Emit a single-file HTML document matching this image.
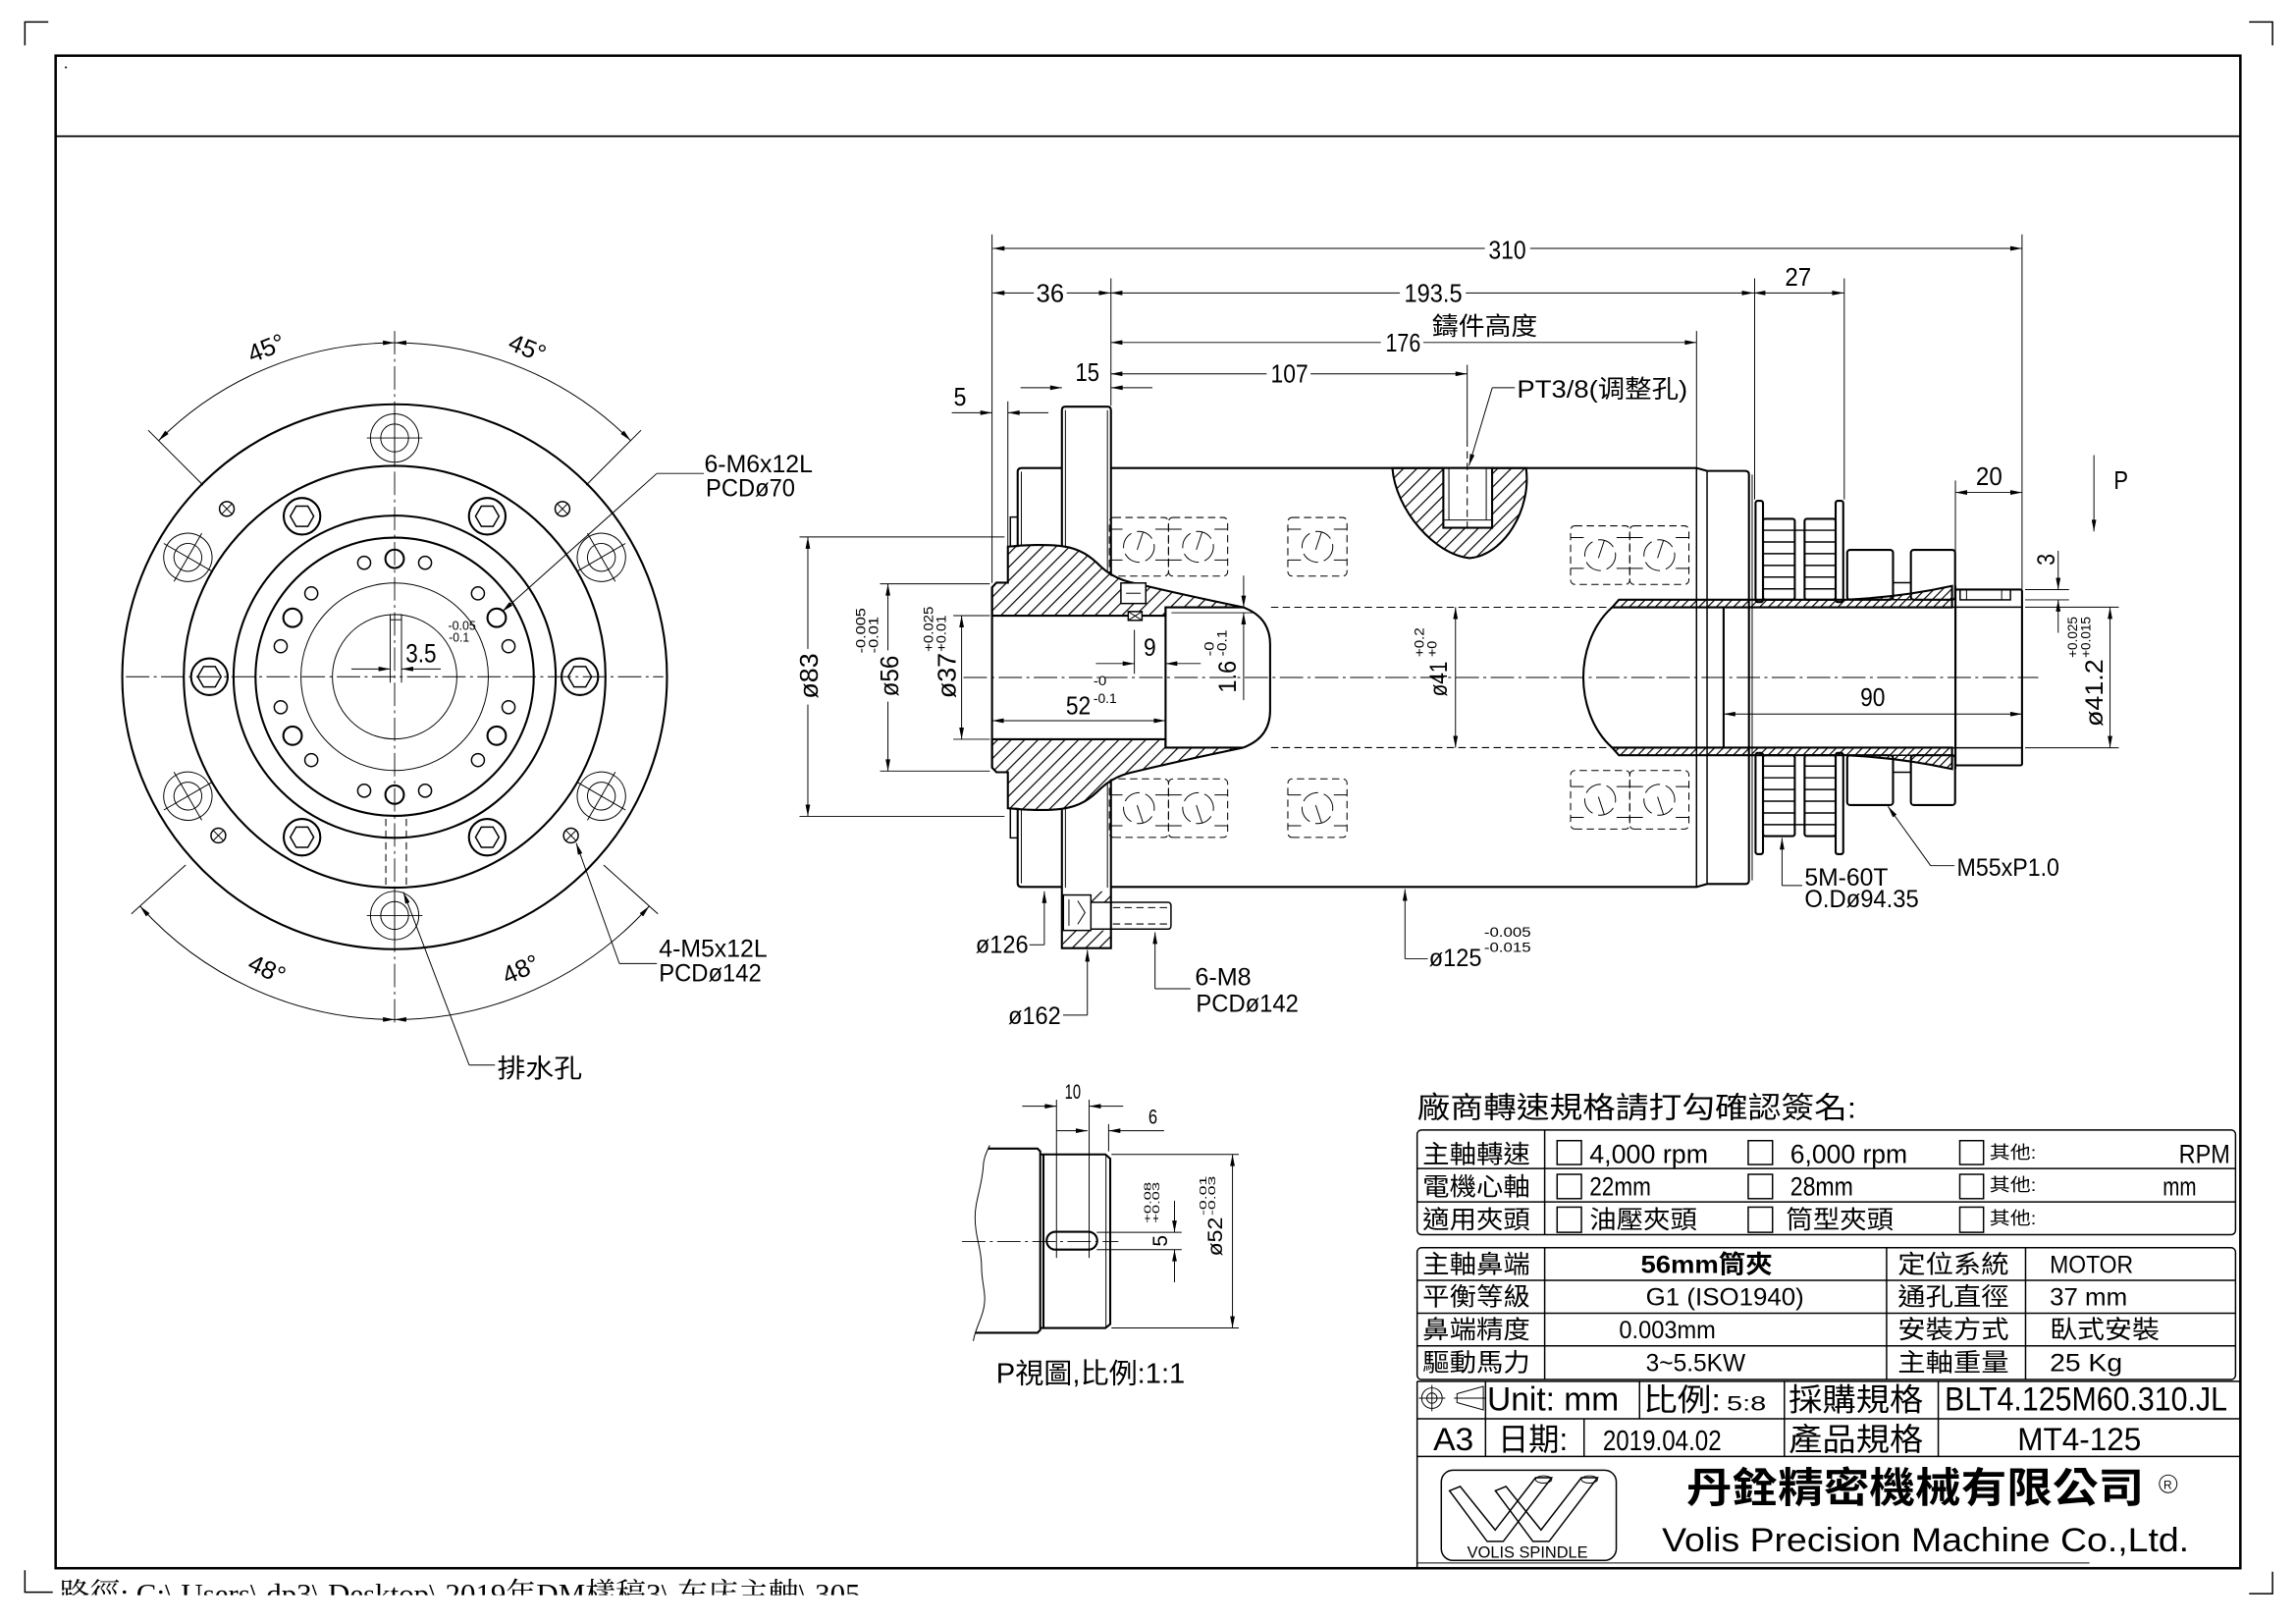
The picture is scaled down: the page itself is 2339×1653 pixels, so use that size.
<!DOCTYPE html>
<html><head><meta charset="utf-8"><style>
html,body{margin:0;padding:0;background:#fff;overflow:hidden}
svg{display:block}
.o{fill:none;stroke:#000;stroke-width:1.4}
.m{fill:none;stroke:#000;stroke-width:1}
.t{fill:none;stroke:#000;stroke-width:.65}
.c{fill:none;stroke:#000;stroke-width:.6;stroke-dasharray:16 3 2 3}
.d{fill:none;stroke:#000;stroke-width:.7;stroke-dasharray:5 3}
.ar{marker-start:url(#a);marker-end:url(#a)}
.ae{marker-end:url(#a)}
text{font-family:"Liberation Sans","Noto Sans CJK TC",sans-serif;fill:#000}
</style></head><body>
<svg xmlns="http://www.w3.org/2000/svg" xmlns:xlink="http://www.w3.org/1999/xlink" width="2339" height="1653" viewBox="0 0 1568 1108" preserveAspectRatio="none">
<defs>
<marker id="a" viewBox="0 0 10 4" refX="10" refY="2" markerWidth="9" markerHeight="3.2" markerUnits="userSpaceOnUse" orient="auto-start-reverse"><path d="M0,0L10,2L0,4z" fill="#000"/></marker>
<pattern id="h" width="6.5" height="6.5" patternUnits="userSpaceOnUse" patternTransform="rotate(45)"><rect width="0.8" height="6.5" fill="#000"/></pattern>
<pattern id="h2" width="4.2" height="4.2" patternUnits="userSpaceOnUse" patternTransform="rotate(45)"><rect width="0.8" height="4.2" fill="#000"/></pattern>
<clipPath id="cp"><rect x="0" y="1070" width="800" height="19"/></clipPath>
<g id="cb"><circle r="16.5" class="t"/><circle r="9.5" class="t"/><path class="t" d="M-19,0H19M0,-19V19"/></g>
<g id="hx"><circle r="12.5" class="o" stroke-width="1.6"/><polygon class="m" stroke-width="1.3" points="8,0 4,6.93 -4,6.93 -8,0 -4,-6.93 4,-6.93"/></g>
<g id="xh"><circle r="5" class="m" stroke-width="1.3"/><path class="t" d="M-3.2,-3.2L3.2,3.2M-3.2,3.2L3.2,-3.2"/></g>
<g id="br"><rect width="40.4" height="40" rx="3" class="d"/><path class="t" d="M0,8H9M31.4,8H40.4M0,29H9M31.4,29H40.4"/><circle cx="20.2" cy="20" r="10.5" class="t" stroke-dasharray="12 4"/><line class="t" x1="19" y1="22" x2="23" y2="10"/></g>
</defs>
<rect width="1568" height="1108" fill="#fff"/>

<!-- FRAME -->
<rect x="38" y="38" width="1492" height="1032.6" fill="none" stroke="#000" stroke-width="1.7"/>
<line x1="38" y1="93" x2="1530" y2="93" stroke="#000" stroke-width="1.2"/>
<path class="m" d="M17,31V15H33M1536,15H1552V31M17,1072V1087H36M1536,1088H1552V1073"/>
<circle cx="45" cy="46" r="0.7"/>
<text x="40.6" y="1095" font-size="20" style="font-family:'Liberation Serif','Noto Serif CJK SC',serif" textLength="547" lengthAdjust="spacingAndGlyphs" clip-path="url(#cp)">路徑: C:\ Users\ dp3\ Desktop\ 2019年DM樣稿3\ 东庆主軸\ 305</text>

<!-- LEFT VIEW -->
<circle cx="269.5" cy="462" r="186" class="o" stroke-width="1.6"/>
<circle cx="269.5" cy="462" r="144" class="o" stroke-width="1.6"/>
<circle cx="269.5" cy="462" r="110" class="o" stroke-width="1.6"/>
<circle cx="269.5" cy="462" r="95" class="o" stroke-width="1.6"/>
<circle cx="269.5" cy="462" r="64" class="t"/>
<circle cx="269.5" cy="462" r="42.5" class="t"/>
<line class="c" x1="269.5" y1="226" x2="269.5" y2="701"/>
<line class="c" x1="86" y1="462" x2="453" y2="462"/>
<use href="#cb" transform="translate(269.5,299)"/>
<use href="#cb" transform="translate(410.7,380.5) rotate(60)"/>
<use href="#cb" transform="translate(410.7,543.5) rotate(120)"/>
<use href="#cb" transform="translate(269.5,625)"/>
<use href="#cb" transform="translate(128.3,543.5) rotate(60)"/>
<use href="#cb" transform="translate(128.3,380.5) rotate(120)"/>
<use href="#hx" transform="translate(396,462)"/>
<use href="#hx" transform="translate(143,462)"/>
<use href="#hx" transform="translate(332.75,352.45)"/>
<use href="#hx" transform="translate(206.25,352.45)"/>
<use href="#hx" transform="translate(332.75,571.55)"/>
<use href="#hx" transform="translate(206.25,571.55)"/>
<use href="#xh" transform="translate(154.9,347.4)"/>
<use href="#xh" transform="translate(384.1,347.4)"/>
<use href="#xh" transform="translate(149.1,570.4)"/>
<use href="#xh" transform="translate(389.9,570.4)"/>
<g class="o" stroke-width="1.5">
<circle cx="269.5" cy="381.5" r="6.3"/><circle cx="339.2" cy="421.75" r="6.3"/><circle cx="339.2" cy="502.25" r="6.3"/>
<circle cx="269.5" cy="542.5" r="6.3"/><circle cx="199.8" cy="502.25" r="6.3"/><circle cx="199.8" cy="421.75" r="6.3"/>
</g>
<g class="m" stroke-width="1.3">
<circle cx="290.3" cy="384.2" r="4.4"/><circle cx="326.4" cy="405.1" r="4.4"/><circle cx="347.3" cy="441.2" r="4.4"/>
<circle cx="347.3" cy="482.8" r="4.4"/><circle cx="326.4" cy="518.9" r="4.4"/><circle cx="290.3" cy="539.8" r="4.4"/>
<circle cx="248.7" cy="539.8" r="4.4"/><circle cx="212.6" cy="518.9" r="4.4"/><circle cx="191.7" cy="482.8" r="4.4"/>
<circle cx="191.7" cy="441.2" r="4.4"/><circle cx="212.6" cy="405.1" r="4.4"/><circle cx="248.7" cy="384.2" r="4.4"/>
</g>
<rect x="266.5" y="419.6" width="7.7" height="3.5" class="t"/>
<path class="t" d="M266.5,420V466M274.2,420V466"/>
<line class="t ae" x1="240" y1="456.7" x2="266.5" y2="456.7"/>
<line class="t ae" x1="301" y1="456.7" x2="274.2" y2="456.7"/>
<text x="277" y="452" font-size="18" textLength="21" lengthAdjust="spacingAndGlyphs">3.5</text>
<text x="306" y="430" font-size="8.5" textLength="19" lengthAdjust="spacingAndGlyphs">-0.05</text>
<text x="306.5" y="438" font-size="8.5" textLength="14" lengthAdjust="spacingAndGlyphs">-0.1</text>
<path class="d" d="M263.5,559V607M277.5,559V607"/>
<!-- angle dims -->
<path class="t ar" d="M269.5,234 A228,228 0 0 0 108.3,300.8"/>
<path class="t ar" d="M269.5,234 A228,228 0 0 1 430.7,300.8"/>
<path class="t ar" d="M269.5,696 A234,234 0 0 1 95.6,618.6"/>
<path class="t ar" d="M269.5,696 A234,234 0 0 0 443.4,618.6"/>
<path class="t" d="M138.7,331.2L101.2,293.7M400.3,331.2L437.8,293.7M126.8,590.5L89.7,623.9M412.2,590.5L449.3,623.9"/>
<text transform="translate(184,243) rotate(-22)" font-size="17" text-anchor="middle">45°</text>
<text transform="translate(358,243) rotate(22)" font-size="17" text-anchor="middle">45°</text>
<text transform="translate(180,667) rotate(24)" font-size="17" text-anchor="middle">48°</text>
<text transform="translate(358,667) rotate(-24)" font-size="17" text-anchor="middle">48°</text>
<!-- leaders -->
<line class="t ae" x1="448.6" y1="323.2" x2="343" y2="417.5"/>
<line class="t" x1="448.6" y1="323.2" x2="480.7" y2="323.2"/>
<text x="481" y="322.5" font-size="17" textLength="74" lengthAdjust="spacingAndGlyphs">6-M6x12L</text>
<text x="482" y="339" font-size="17" textLength="61" lengthAdjust="spacingAndGlyphs">PCDø70</text>
<line class="t ae" x1="423" y1="657.8" x2="393.5" y2="575.5"/>
<line class="t" x1="423" y1="657.8" x2="448.6" y2="657.8"/>
<text x="450" y="653.3" font-size="17" textLength="74" lengthAdjust="spacingAndGlyphs">4-M5x12L</text>
<text x="450" y="670" font-size="17" textLength="70" lengthAdjust="spacingAndGlyphs">PCDø142</text>
<line class="t ae" x1="320.4" y1="727.1" x2="275.5" y2="609"/>
<line class="t" x1="320.4" y1="727.1" x2="338" y2="727.1"/>
<text x="339.6" y="735.5" font-size="18" textLength="58" lengthAdjust="spacingAndGlyphs">排水孔</text>

<!-- MAIN VIEW: outlines -->
<line class="c" x1="658" y1="462.5" x2="1392" y2="462.5"/>
<path class="o" d="M695,373V322Q695,319.5 698,319.5H725.2"/>
<path class="o" d="M725.2,373V280Q725.2,277.6 727.6,277.6H756.3Q758.7,277.6 758.7,280V393"/>
<path class="o" d="M758.7,319.5H1158.6L1165.8,321.5H1191.8Q1194.4,321.5 1194.4,324V601Q1194.4,603.5 1191.8,603.5H1165.8L1158.6,605.5H758.7"/>
<path class="m" d="M1158.6,319.5V605.5M1165.8,321.5V603.5"/>
<line class="t" x1="1196.6" y1="324" x2="1196.6" y2="601"/>
<path class="o" d="M695,552V603Q695,605.5 698,605.5H725.2"/>
<path class="o" d="M725.2,552V647.3H758.7V532"/>
<path class="t" d="M697.5,322V373M697.5,552V603M727.6,280V373M756.3,280V391M727.6,552V606M756.3,534V606"/>
<rect x="690" y="353" width="5" height="20" class="m"/>
<rect x="690" y="552" width="5" height="20" class="m"/>
<!-- hub -->
<path class="o" style="fill:url(#h)" d="M677.5,401L680.5,397.8H688.3V373.2C700,372 715,371.5 725,372.8C738,374.5 745,380 752,387C758,392.5 764,395.6 772,397.5C795,403 822,409 849,414.6H796V420.3H677.5Z"/>
<path class="o" style="fill:url(#h)" d="M677.5,524L680.5,527.2H688.3V551.8C700,553 715,553.5 725,552.2C738,550.5 745,545 752,538C758,532.5 764,529.4 772,527.5C795,522 822,516 849,510.4H796V504.7H677.5Z"/>
<line class="o" x1="677.5" y1="401" x2="677.5" y2="524"/>
<path class="o" d="M849,414.6C861,419 867.4,427 867.4,440V485C867.4,498 861,506 849,510.4"/>
<line class="o" x1="796" y1="414.6" x2="796" y2="510.4"/>
<rect x="765.5" y="398" width="17" height="14" class="m" style="fill:#fff"/>
<line class="t" x1="769" y1="405" x2="779" y2="405"/>
<rect x="770.5" y="417.5" width="9.4" height="6" class="m" style="fill:#fff"/>
<path class="t" d="M770.5,417.5L779.9,423.5M770.5,423.5L779.9,417.5"/>
<line class="t" x1="800" y1="418.3" x2="856" y2="418.3"/>
<path class="d" d="M868,414.6H1101M868,510.4H1101"/>
<!-- PT lens -->
<path class="o" style="fill:url(#h)" d="M950.9,319.5C953,348 980,379 1003.7,381C1027,379 1046,348 1042.2,319.5Z"/>
<rect x="985.7" y="319.5" width="33.3" height="40.8" class="o" style="fill:#fff"/>
<path class="t" d="M989.5,319.5V355M1015,319.5V355M985.7,355H1019"/>
<line class="d" x1="1002" y1="300" x2="1002" y2="360"/>
<!-- bearings -->
<use href="#br" x="757.6" y="353.3"/>
<use href="#br" x="798" y="353.3"/>
<use href="#br" x="879.5" y="353.3"/>
<use href="#br" transform="translate(757.6,571.7) scale(1,-1)"/>
<use href="#br" transform="translate(798,571.7) scale(1,-1)"/>
<use href="#br" transform="translate(879.5,571.7) scale(1,-1)"/>
<use href="#br" x="1072.6" y="359"/>
<use href="#br" x="1113" y="359"/>
<use href="#br" transform="translate(1072.6,566) scale(1,-1)"/>
<use href="#br" transform="translate(1113,566) scale(1,-1)"/>
<!-- flange bolt -->
<rect x="745" y="608.5" width="13.7" height="7.5" style="fill:url(#h)"/>
<rect x="726" y="635.2" width="32.7" height="12" style="fill:url(#h)"/>
<rect x="726.2" y="611" width="18.8" height="24.2" class="m" style="fill:#fff"/>
<path class="t" d="M730,614V632M736,615L741,623L736,631"/>
<path class="m" d="M745,616H797.5Q799.7,616 799.7,618.5V631.8Q799.7,634.3 797.5,634.3H745"/>
<path class="d" d="M760,619.6H797M760,630.8H797"/>
<!-- pulley -->
<rect x="1198.9" y="341.9" width="5.1" height="69.1" rx="1.5" class="o"/>
<rect x="1253.6" y="341.9" width="5.2" height="69.1" rx="1.5" class="o"/>
<rect x="1198.9" y="514" width="5.1" height="69.1" rx="1.5" class="o"/>
<rect x="1253.6" y="514" width="5.2" height="69.1" rx="1.5" class="o"/>
<rect x="1204" y="354.2" width="21.7" height="55.2" rx="1.5" class="o"/>
<rect x="1232.4" y="354.2" width="21.2" height="55.2" rx="1.5" class="o"/>
<rect x="1204" y="515.6" width="21.7" height="55.2" rx="1.5" class="o"/>
<rect x="1232.4" y="515.6" width="21.2" height="55.2" rx="1.5" class="o"/>
<path class="m" d="M1204,362H1253.6M1204,370H1225.7M1232.4,370H1253.6M1204,378H1225.7M1232.4,378H1253.6M1204,386H1225.7M1232.4,386H1253.6M1204,394H1225.7M1232.4,394H1253.6M1204,402H1225.7M1232.4,402H1253.6"/>
<path class="m" d="M1204,563H1253.6M1204,555H1225.7M1232.4,555H1253.6M1204,547H1225.7M1232.4,547H1253.6M1204,539H1225.7M1232.4,539H1253.6M1204,531H1225.7M1232.4,531H1253.6M1204,523H1225.7M1232.4,523H1253.6"/>
<rect x="1261.5" y="375.4" width="31.3" height="34" rx="2" class="o"/>
<rect x="1305" y="375.4" width="30.2" height="34" rx="2" class="o"/>
<rect x="1261.5" y="515.6" width="31.3" height="34" rx="2" class="o"/>
<rect x="1305" y="515.6" width="30.2" height="34" rx="2" class="o"/>
<rect x="1292.8" y="397.8" width="12.2" height="11.6" class="m"/>
<rect x="1292.8" y="515.6" width="12.2" height="11.6" class="m"/>
<!-- shaft tube -->
<path class="o" style="fill:url(#h2)" d="M1105.6,409.4H1261C1290,408 1315,404 1333.1,400V414.6H1101Z"/>
<path class="o" style="fill:url(#h2)" d="M1105.6,515.6H1261C1290,517 1315,521 1333.1,525V510.4H1101Z"/>
<path class="o" d="M1101,414.6C1086,428 1081.3,448 1081.3,462.5C1081.3,477 1086,497 1101,510.4"/>
<line class="o" x1="1177.1" y1="414.6" x2="1177.1" y2="510.4"/>
<line class="o" x1="1335.4" y1="400" x2="1335.4" y2="525"/>
<rect x="1335.4" y="402.5" width="45.5" height="120" rx="1" class="o"/>
<rect x="1338.6" y="402.5" width="34.4" height="7" class="m"/>
<path class="t" d="M1343,402.5V409.5M1367,402.5V409.5"/>
<path class="m" d="M1177.1,414.5H1380.9M1177.1,510.5H1380.9"/>

<!-- MAIN VIEW: extension lines -->
<path class="t" d="M677.5,160V398M688.3,274V373M758.7,190V277M1002,249V300M1158.6,226V319M1198.3,190V341M1259.5,190V341M1380.9,160V402M1335.4,328V400"/>
<path class="t" d="M546,366.6H686M546,557.3H686M601,398.6H676M601,526.4H676M651,420.3H676M651,504.7H676"/>
<path class="t" d="M1383,402.5H1413M1383,409.5H1413M1383,414.5H1447M1383,510.5H1447M774.7,430V460"/>

<!-- MAIN VIEW: dimensions -->
<line class="t" x1="678" y1="169.6" x2="1014" y2="169.6" style="marker-start:url(#a)"/>
<line class="t ae" x1="1045" y1="169.6" x2="1380.9" y2="169.6"/>
<text x="1016.5" y="176.7" font-size="17.5" textLength="25.7" lengthAdjust="spacingAndGlyphs">310</text>
<line class="t" x1="678" y1="200" x2="706" y2="200" style="marker-start:url(#a)"/>
<line class="t ae" x1="728.5" y1="200" x2="758.5" y2="200"/>
<text x="707.7" y="206" font-size="17.5" textLength="19" lengthAdjust="spacingAndGlyphs">36</text>
<line class="t" x1="758.5" y1="200" x2="956" y2="200" style="marker-start:url(#a)"/>
<line class="t ae" x1="1001" y1="200" x2="1197.6" y2="200"/>
<text x="959" y="206" font-size="17.5" textLength="39.6" lengthAdjust="spacingAndGlyphs">193.5</text>
<line class="t ar" x1="1197.6" y1="200" x2="1259.2" y2="200"/>
<text x="1219" y="195" font-size="17.5" textLength="18" lengthAdjust="spacingAndGlyphs">27</text>
<text x="978" y="228.5" font-size="17" textLength="72" lengthAdjust="spacingAndGlyphs">鑄件高度</text>
<line class="t" x1="758.5" y1="233.8" x2="943" y2="233.8" style="marker-start:url(#a)"/>
<line class="t ae" x1="972" y1="233.8" x2="1158.6" y2="233.8"/>
<text x="946.2" y="240" font-size="17.5" textLength="24" lengthAdjust="spacingAndGlyphs">176</text>
<line class="t" x1="758.5" y1="255.2" x2="865" y2="255.2" style="marker-start:url(#a)"/>
<line class="t ae" x1="895" y1="255.2" x2="1002" y2="255.2"/>
<text x="867.8" y="261" font-size="17.5" textLength="25.6" lengthAdjust="spacingAndGlyphs">107</text>
<line class="t ae" x1="697" y1="264.7" x2="725.2" y2="264.7"/>
<line class="t ae" x1="787" y1="264.7" x2="758.7" y2="264.7"/>
<text x="734.4" y="260" font-size="17.5" textLength="16.4" lengthAdjust="spacingAndGlyphs">15</text>
<line class="t ae" x1="650" y1="281.8" x2="677.5" y2="281.8"/>
<line class="t ae" x1="716" y1="281.8" x2="688.3" y2="281.8"/>
<text x="651.3" y="277" font-size="17.5" textLength="8.7" lengthAdjust="spacingAndGlyphs">5</text>
<line class="t ae" x1="1019.1" y1="264.7" x2="1003.2" y2="318"/>
<line class="t" x1="1019.1" y1="264.7" x2="1034.5" y2="264.7"/>
<text x="1036" y="271.5" font-size="17" textLength="116.5" lengthAdjust="spacingAndGlyphs">PT3/8(调整孔)</text>
<line class="t ar" x1="1335.4" y1="336.2" x2="1380.9" y2="336.2"/>
<text x="1349.4" y="331" font-size="17.5" textLength="18" lengthAdjust="spacingAndGlyphs">20</text>
<line class="t ae" x1="1430" y1="310.7" x2="1430" y2="362.8"/>
<text x="1443.6" y="333.8" font-size="17.5" textLength="9.8" lengthAdjust="spacingAndGlyphs">P</text>
<line class="t ae" x1="1405.6" y1="376" x2="1405.6" y2="402.5"/>
<line class="t ae" x1="1405.6" y1="432" x2="1405.6" y2="409.5"/>
<text transform="translate(1403,386) rotate(-90)" font-size="17" textLength="8" lengthAdjust="spacingAndGlyphs">3</text>
<line class="t ar" x1="1441" y1="414.5" x2="1441" y2="510.5"/>
<text transform="translate(1436,496) rotate(-90)" font-size="17" textLength="46" lengthAdjust="spacingAndGlyphs">ø41.2</text>
<text transform="translate(1418.5,449) rotate(-90)" font-size="9" textLength="28" lengthAdjust="spacingAndGlyphs">+0.025</text>
<text transform="translate(1427.5,449) rotate(-90)" font-size="9" textLength="28" lengthAdjust="spacingAndGlyphs">+0.015</text>
<line class="t ar" x1="1177.1" y1="487.5" x2="1380.9" y2="487.5"/>
<text x="1270.4" y="482" font-size="17.5" textLength="17" lengthAdjust="spacingAndGlyphs">90</text>
<line class="t ar" x1="994" y1="414.6" x2="994" y2="510.4"/>
<text transform="translate(988,475.5) rotate(-90)" font-size="17" textLength="24" lengthAdjust="spacingAndGlyphs">ø41</text>
<text transform="translate(972.5,448.5) rotate(-90)" font-size="9" textLength="20" lengthAdjust="spacingAndGlyphs">+0.2</text>
<text transform="translate(981,448.5) rotate(-90)" font-size="9" textLength="11" lengthAdjust="spacingAndGlyphs">+0</text>
<line class="t ae" x1="849.3" y1="393" x2="849.3" y2="414.6"/>
<line class="t ae" x1="849.3" y1="478" x2="849.3" y2="418.3"/>
<text transform="translate(844,473) rotate(-90)" font-size="17" textLength="22" lengthAdjust="spacingAndGlyphs">1.6</text>
<text transform="translate(829,448) rotate(-90)" font-size="9" textLength="10" lengthAdjust="spacingAndGlyphs">-0</text>
<text transform="translate(837.5,448) rotate(-90)" font-size="9" textLength="18" lengthAdjust="spacingAndGlyphs">-0.1</text>
<line class="t ae" x1="748.4" y1="453" x2="774.7" y2="453"/>
<line class="t ae" x1="820" y1="453" x2="796" y2="453"/>
<text x="781" y="447.7" font-size="17" textLength="8.5" lengthAdjust="spacingAndGlyphs">9</text>
<line class="t ar" x1="677.5" y1="492" x2="796" y2="492"/>
<text x="727.9" y="487.5" font-size="17.5" textLength="17" lengthAdjust="spacingAndGlyphs">52</text>
<text x="746.7" y="468" font-size="9" textLength="9" lengthAdjust="spacingAndGlyphs">-0</text>
<text x="746.7" y="480" font-size="9" textLength="16" lengthAdjust="spacingAndGlyphs">-0.1</text>
<line class="t" x1="551.7" y1="366.6" x2="551.7" y2="443" style="marker-start:url(#a)"/>
<line class="t ae" x1="551.7" y1="481" x2="551.7" y2="557.3"/>
<text transform="translate(558.5,477) rotate(-90)" font-size="17.5" textLength="31" lengthAdjust="spacingAndGlyphs">ø83</text>
<line class="t" x1="606.4" y1="398.6" x2="606.4" y2="444" style="marker-start:url(#a)"/>
<line class="t ae" x1="606.4" y1="479" x2="606.4" y2="526.4"/>
<text transform="translate(613.3,475.5) rotate(-90)" font-size="17.5" textLength="28" lengthAdjust="spacingAndGlyphs">ø56</text>
<text transform="translate(591,446) rotate(-90)" font-size="9" textLength="31" lengthAdjust="spacingAndGlyphs">-0.005</text>
<text transform="translate(599.6,446) rotate(-90)" font-size="9" textLength="25" lengthAdjust="spacingAndGlyphs">-0.01</text>
<line class="t ar" x1="656.7" y1="420.3" x2="656.7" y2="504.7"/>
<text transform="translate(652.6,476.7) rotate(-90)" font-size="17.5" textLength="31" lengthAdjust="spacingAndGlyphs">ø37</text>
<text transform="translate(637.2,445) rotate(-90)" font-size="9" textLength="31" lengthAdjust="spacingAndGlyphs">+0.025</text>
<text transform="translate(645.8,445) rotate(-90)" font-size="9" textLength="25" lengthAdjust="spacingAndGlyphs">+0.01</text>

<!-- MAIN VIEW: leaders -->
<line class="t ae" x1="713.2" y1="645" x2="713.2" y2="608.5"/>
<line class="t" x1="713.2" y1="645" x2="703" y2="645"/>
<text x="666.3" y="650.5" font-size="17" textLength="36" lengthAdjust="spacingAndGlyphs">ø126</text>
<line class="t ae" x1="742.6" y1="693" x2="742.6" y2="648.5"/>
<line class="t" x1="742.6" y1="693" x2="726" y2="693"/>
<text x="688.5" y="699" font-size="17" textLength="36" lengthAdjust="spacingAndGlyphs">ø162</text>
<line class="t ae" x1="788.8" y1="675" x2="788.8" y2="636.4"/>
<line class="t" x1="788.8" y1="675" x2="813" y2="675"/>
<text x="816.1" y="672.5" font-size="17" textLength="38.4" lengthAdjust="spacingAndGlyphs">6-M8</text>
<text x="816.8" y="690.8" font-size="17" textLength="70" lengthAdjust="spacingAndGlyphs">PCDø142</text>
<line class="t ae" x1="959.5" y1="654.5" x2="959.5" y2="607"/>
<line class="t" x1="959.5" y1="654.5" x2="975" y2="654.5"/>
<text x="975.9" y="659.5" font-size="17" textLength="36" lengthAdjust="spacingAndGlyphs">ø125</text>
<text x="1013.5" y="639.5" font-size="9.5" textLength="32" lengthAdjust="spacingAndGlyphs">-0.005</text>
<text x="1013.5" y="650" font-size="9.5" textLength="32" lengthAdjust="spacingAndGlyphs">-0.015</text>
<line class="t ae" x1="1217" y1="604.5" x2="1217" y2="572"/>
<line class="t" x1="1217" y1="604.5" x2="1230.8" y2="604.5"/>
<text x="1232.4" y="604.5" font-size="17" textLength="57" lengthAdjust="spacingAndGlyphs">5M-60T</text>
<text x="1232.4" y="619.5" font-size="17" textLength="78" lengthAdjust="spacingAndGlyphs">O.Dø94.35</text>
<line class="t ae" x1="1318.5" y1="591" x2="1289.3" y2="550.5"/>
<line class="t" x1="1318.5" y1="591" x2="1334.8" y2="591"/>
<text x="1336.4" y="597.8" font-size="17" textLength="70" lengthAdjust="spacingAndGlyphs">M55xP1.0</text>

<!-- P VIEW -->
<line class="t ae" x1="698.1" y1="755.2" x2="721.5" y2="755.2"/>
<line class="t ae" x1="767.1" y1="755.2" x2="743.8" y2="755.2"/>
<text x="727.1" y="750" font-size="14" textLength="11" lengthAdjust="spacingAndGlyphs">10</text>
<line class="t ae" x1="721.5" y1="771.9" x2="742.7" y2="771.9"/>
<line class="t ae" x1="795" y1="771.9" x2="757.1" y2="771.9"/>
<text x="784.3" y="767" font-size="14" textLength="6.2" lengthAdjust="spacingAndGlyphs">6</text>
<path class="t" d="M721.5,750.7V858.7M743.8,750.7V858.7M757.1,767.4V786"/>
<path class="t" d="M675.9,781.9C673,788 671.4,792 671.4,797.5C670,812 665.9,820 665.9,830.9C665.9,845 670.3,852 670.3,864.3C670.3,874 672.5,880 672.5,886.5C672.5,898 666,906 664.7,915.5"/>
<path class="o" d="M674.8,784.1H708.5L710.4,786V908L708.5,909.9H665.9"/>
<line class="o" x1="712.6" y1="788.1" x2="712.6" y2="906.6"/>
<path class="o" d="M710.4,788.1H754.9L758.2,791V904L754.9,906.6H710.4"/>
<line class="t" x1="755.3" y1="788.1" x2="755.3" y2="906.6"/>
<rect x="714.8" y="840.9" width="34.5" height="12.2" rx="6" class="o"/>
<line class="c" x1="657" y1="847.6" x2="763.8" y2="847.6"/>
<path class="t" d="M749,841.3H807M749,853.1H807M759,788.1H846M759,906.6H846"/>
<line class="t ae" x1="802.1" y1="819.7" x2="802.1" y2="841.3"/>
<line class="t ae" x1="802.1" y1="875.4" x2="802.1" y2="853.1"/>
<text transform="translate(797.2,851) rotate(-90)" font-size="14" textLength="7.8" lengthAdjust="spacingAndGlyphs">5</text>
<text transform="translate(786,835) rotate(-90)" font-size="7" textLength="28" lengthAdjust="spacingAndGlyphs">+0.08</text>
<text transform="translate(791.6,835) rotate(-90)" font-size="7" textLength="28" lengthAdjust="spacingAndGlyphs">+0.03</text>
<line class="t ar" x1="841.7" y1="788.1" x2="841.7" y2="906.6"/>
<text transform="translate(834.5,857.6) rotate(-90)" font-size="14" textLength="26.7" lengthAdjust="spacingAndGlyphs">ø52</text>
<text transform="translate(824,829.8) rotate(-90)" font-size="7" textLength="27" lengthAdjust="spacingAndGlyphs">-0.01</text>
<text transform="translate(830,829.8) rotate(-90)" font-size="7" textLength="27" lengthAdjust="spacingAndGlyphs">-0.03</text>
<text x="680.3" y="944" font-size="19" textLength="129" lengthAdjust="spacingAndGlyphs">P視圖,比例:1:1</text>

<!-- TABLE 1 -->
<text x="967.8" y="763" font-size="20" textLength="300" lengthAdjust="spacingAndGlyphs">廠商轉速規格請打勾確認簽名:</text>
<rect x="967.8" y="771.4" width="558.9" height="71.5" rx="3" class="m" stroke-width="1.2"/>
<path class="m" d="M967.8,797.7H1526.7M967.8,820.5H1526.7M1054.9,771.4V842.9"/>
<g font-size="17">
<text x="971.5" y="794" textLength="73.5" lengthAdjust="spacingAndGlyphs">主軸轉速</text>
<text x="971.5" y="816" textLength="73.5" lengthAdjust="spacingAndGlyphs">電機心軸</text>
<text x="971.5" y="838.5" textLength="73.5" lengthAdjust="spacingAndGlyphs">適用夾頭</text>
</g>
<g class="m">
<rect x="1063.4" y="778.7" width="16.6" height="16.3"/><rect x="1193.9" y="778.7" width="16.6" height="16.3"/><rect x="1338.4" y="778.7" width="16.2" height="16.3"/>
<rect x="1063.4" y="801.7" width="16.6" height="16.6"/><rect x="1193.9" y="801.7" width="16.6" height="16.6"/><rect x="1338.4" y="801.7" width="16.2" height="16.6"/>
<rect x="1063.4" y="824.1" width="16.6" height="17.2"/><rect x="1193.9" y="824.1" width="16.6" height="17.2"/><rect x="1338.4" y="824.1" width="16.2" height="17.2"/>
</g>
<g font-size="18">
<text x="1085.5" y="794" textLength="81" lengthAdjust="spacingAndGlyphs">4,000 rpm</text>
<text x="1222.6" y="794" textLength="80" lengthAdjust="spacingAndGlyphs">6,000 rpm</text>
<text x="1488" y="794" textLength="35" lengthAdjust="spacingAndGlyphs">RPM</text>
<text x="1085.5" y="816" textLength="42" lengthAdjust="spacingAndGlyphs">22mm</text>
<text x="1222.6" y="816" textLength="43" lengthAdjust="spacingAndGlyphs">28mm</text>
<text x="1477" y="816" textLength="23" lengthAdjust="spacingAndGlyphs">mm</text>
</g>
<g font-size="17">
<text x="1085.5" y="838.5" textLength="73.5" lengthAdjust="spacingAndGlyphs">油壓夾頭</text>
<text x="1219.7" y="838.5" textLength="73.5" lengthAdjust="spacingAndGlyphs">筒型夾頭</text>
</g>
<g font-size="12">
<text x="1358.7" y="791" textLength="32" lengthAdjust="spacingAndGlyphs">其他:</text>
<text x="1358.7" y="813" textLength="32" lengthAdjust="spacingAndGlyphs">其他:</text>
<text x="1358.7" y="836" textLength="32" lengthAdjust="spacingAndGlyphs">其他:</text>
</g>

<!-- TABLE 2 -->
<rect x="967.8" y="851.8" width="558.9" height="90" rx="3" class="m" stroke-width="1.2"/>
<path class="m" d="M967.8,874.1H1526.7M967.8,896.5H1526.7M967.8,918.8H1526.7M1054.9,851.8V941.8M1288.4,851.8V941.8M1383.3,851.8V941.8"/>
<g font-size="17">
<text x="971.5" y="869" textLength="73.5" lengthAdjust="spacingAndGlyphs">主軸鼻端</text>
<text x="971.5" y="891" textLength="73.5" lengthAdjust="spacingAndGlyphs">平衡等級</text>
<text x="971.5" y="913.5" textLength="73.5" lengthAdjust="spacingAndGlyphs">鼻端精度</text>
<text x="971.5" y="936" textLength="73.5" lengthAdjust="spacingAndGlyphs">驅動馬力</text>
<text x="1296" y="869" textLength="76" lengthAdjust="spacingAndGlyphs">定位系統</text>
<text x="1296" y="891" textLength="76" lengthAdjust="spacingAndGlyphs">通孔直徑</text>
<text x="1296" y="913.5" textLength="76" lengthAdjust="spacingAndGlyphs">安裝方式</text>
<text x="1296" y="936" textLength="76" lengthAdjust="spacingAndGlyphs">主軸重量</text>
<text x="1120.5" y="869" textLength="90" lengthAdjust="spacingAndGlyphs" font-weight="bold">56mm筒夾</text>
<text x="1124" y="891" textLength="108" lengthAdjust="spacingAndGlyphs">G1  (ISO1940)</text>
<text x="1105.7" y="913.5" textLength="66" lengthAdjust="spacingAndGlyphs">0.003mm</text>
<text x="1124" y="936" textLength="68" lengthAdjust="spacingAndGlyphs">3~5.5KW</text>
<text x="1399.8" y="869" textLength="57" lengthAdjust="spacingAndGlyphs">MOTOR</text>
<text x="1399.8" y="891" textLength="53" lengthAdjust="spacingAndGlyphs">37 mm</text>
<text x="1399.8" y="913.5" textLength="75" lengthAdjust="spacingAndGlyphs">臥式安裝</text>
<text x="1399.8" y="936" textLength="49.6" lengthAdjust="spacingAndGlyphs">25 Kg</text>
</g>

<!-- TITLE BLOCK -->
<path class="m" stroke-width="1.3" d="M967.8,943V1070.6M967.8,943H1530M967.8,968.6H1530M967.8,994.3H1530M1014.5,943V994.3M1119.7,943V968.6M1081.8,968.6V994.3M1218.6,943V994.3M1323.7,943V994.3"/>
<line class="t" x1="967.8" y1="1067" x2="1427" y2="1067"/>
<circle cx="977.9" cy="954.5" r="7" class="t"/><circle cx="977.9" cy="954.5" r="3.5" class="t"/>
<path class="t" d="M969,954.5H987M977.9,945.5V963.5M995,951.5L1013,946.5V962.5L995,957.5ZM993,954.5H1015"/>
<text x="1015.6" y="963" font-size="23" textLength="90" lengthAdjust="spacingAndGlyphs">Unit:  mm</text>
<text x="1122.2" y="963" font-size="21" textLength="53" lengthAdjust="spacingAndGlyphs">比例:</text>
<text x="1179.2" y="963" font-size="14" textLength="27" lengthAdjust="spacingAndGlyphs">5:8</text>
<text x="1221.5" y="963" font-size="21.5" textLength="92" lengthAdjust="spacingAndGlyphs">採購規格</text>
<text x="1328.1" y="963" font-size="23" textLength="193" lengthAdjust="spacingAndGlyphs">BLT4.125M60.310.JL</text>
<text x="978.8" y="990" font-size="22" textLength="27.6" lengthAdjust="spacingAndGlyphs">A3</text>
<text x="1023" y="990" font-size="21.5" textLength="47.7" lengthAdjust="spacingAndGlyphs">日期:</text>
<text x="1094.6" y="990" font-size="19" textLength="81" lengthAdjust="spacingAndGlyphs">2019.04.02</text>
<text x="1221.5" y="990" font-size="21.5" textLength="92" lengthAdjust="spacingAndGlyphs">產品規格</text>
<text x="1377.8" y="990" font-size="22" textLength="84.5" lengthAdjust="spacingAndGlyphs">MT4-125</text>
<!-- logo -->
<rect x="984.3" y="1003.7" width="119.5" height="61.6" rx="8" class="m"/>
<polygon class="m" points="989.9,1017.7 997.2,1014.8 1021.1,1044.5 1048.7,1008.8 1059.7,1008.8 1026.6,1052.3 1015.6,1052.3"/>
<polygon class="m" points="1021.2,1017.7 1028.5,1014.8 1052.4,1044.5 1080,1008.8 1091,1008.8 1057.9,1052.3 1046.9,1052.3"/>
<ellipse cx="1054.2" cy="1010" rx="5.5" ry="2.5" class="t"/>
<ellipse cx="1085.5" cy="1010" rx="5.5" ry="2.5" class="t"/>
<text x="1002" y="1063.5" font-size="11" textLength="82.4" lengthAdjust="spacingAndGlyphs">VOLIS SPINDLE</text>
<text x="1151.6" y="1025.5" font-size="28" font-weight="bold" textLength="312.6" lengthAdjust="spacingAndGlyphs">丹銓精密機械有限公司</text>
<circle cx="1480.7" cy="1013" r="6" class="t"/>
<text x="1477.5" y="1016.5" font-size="8">R</text>
<text x="1135" y="1059" font-size="23" textLength="360" lengthAdjust="spacingAndGlyphs">Volis Precision Machine Co.,Ltd.</text>
</svg>
</body></html>
